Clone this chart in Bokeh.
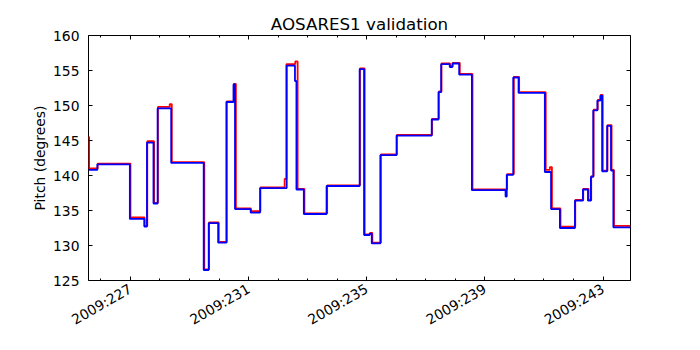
import math
from bokeh.plotting import figure
from bokeh.models import Range1d, FixedTicker, LinearAxis
from bokeh.embed import file_html
from bokeh.resources import INLINE

# Blue series (day of year 2009, pitch in degrees) - step starts
blue_day = [225.58, 225.88, 226.98, 227.47, 227.56, 227.78, 227.92, 228.38, 229.48, 229.65,
            229.97, 230.25, 230.49, 230.54, 231.07, 231.39, 232.29, 232.57, 232.62, 232.87,
            233.64, 234.76, 234.91, 235.10, 235.17, 235.46, 236.01, 237.20, 237.43, 237.52,
            237.81, 237.90, 238.13, 238.56, 239.70, 239.74, 239.96, 240.14, 241.03, 241.24,
            241.54, 242.05, 242.32, 242.49, 242.59, 242.67, 242.81, 242.91, 242.97, 243.14,
            243.27, 243.35, 243.93]
blue_pitch = [140.8, 141.6, 133.8, 132.7, 144.7, 136.0, 149.6, 141.8, 126.5, 133.2,
              130.4, 150.5, 153.0, 135.2, 134.7, 138.2, 155.7, 153.5, 138.0, 134.5,
              138.5, 155.2, 131.5, 131.7, 130.3, 142.9, 145.7, 148.0, 151.9, 155.9,
              155.5, 156.0, 154.4, 137.9, 137.0, 140.1, 154.0, 151.8, 140.5, 135.2,
              132.5, 136.4, 138.0, 136.4, 139.8, 149.3, 150.7, 151.4, 140.6, 147.1,
              140.7, 132.6, 132.6]

# Red series
red_day = [225.58, 225.60, 225.89, 227.00, 227.48, 227.57, 227.80, 227.93, 228.33, 228.40,
           229.50, 229.66, 229.99, 230.26, 230.50, 230.57, 231.08, 231.40, 232.22, 232.28,
           232.58, 232.66, 232.89, 233.66, 234.77, 234.93, 235.11, 235.19, 235.48, 236.02,
           237.21, 237.44, 237.53, 237.82, 237.91, 238.15, 238.58, 239.75, 239.98, 240.16,
           241.06, 241.20, 241.27, 241.56, 242.06, 242.33, 242.51, 242.60, 242.68, 242.82,
           242.92, 242.99, 243.15, 243.29, 243.37, 243.93]
red_pitch = [145.5, 141.0, 141.7, 134.0, 132.8, 144.9, 136.1, 149.8, 150.2, 141.9,
             126.6, 133.3, 130.5, 150.6, 153.1, 135.3, 134.9, 138.3, 139.5, 155.9,
             156.3, 138.1, 134.6, 138.6, 155.3, 131.6, 131.8, 130.4, 143.0, 145.8,
             148.1, 152.0, 156.0, 155.6, 156.1, 154.5, 138.0, 140.2, 154.1, 151.9,
             140.8, 141.2, 135.3, 132.7, 136.5, 138.1, 136.5, 139.9, 149.4, 150.8,
             151.5, 140.7, 147.2, 140.8, 132.8, 132.8]

x_start, x_end = 225.58, 243.93
y_start, y_end = 125, 160
major_days = [227, 231, 235, 239, 243]
major_labels = ["2009:227", "2009:231", "2009:235", "2009:239", "2009:243"]
minor_days = list(range(226, 244))
pitch_ticks = [125, 130, 135, 140, 145, 150, 155, 160]

FONT = "DejaVu Sans"

p = figure(frame_width=542, frame_height=245, output_backend="svg", toolbar_location=None,
           x_range=Range1d(x_start, x_end), y_range=Range1d(y_start, y_end),
           title="AOSARES1 validation", x_axis_location=None, y_axis_location=None)
p.min_border_left = 88
p.min_border_right = 54
p.min_border_top = 35
p.min_border_bottom = 54
p.background_fill_color = "white"
p.border_fill_color = "white"
p.outline_line_color = "black"
p.outline_line_width = 1
p.outline_line_alpha = 1
p.xgrid.visible = False
p.ygrid.visible = False

p.title.align = "center"
p.title.text_font = FONT
p.title.text_font_size = "16.7px"
p.title.text_font_style = "normal"
p.title.text_color = "black"
p.title.standoff = 4

xt = FixedTicker(ticks=major_days, minor_ticks=minor_days)
yt = FixedTicker(ticks=pitch_ticks, minor_ticks=[])

def style_axis(ax, show_labels):
    ax.axis_line_color = None
    ax.major_tick_in = 4
    ax.major_tick_out = 0
    ax.minor_tick_in = 2
    ax.minor_tick_out = 0
    ax.major_tick_line_color = "black"
    ax.minor_tick_line_color = "black"
    ax.major_label_text_font = FONT
    ax.major_label_text_font_size = "13.9px"
    ax.major_label_text_color = "black"
    if not show_labels:
        ax.major_label_text_font_size = "0px"
        ax.major_label_standoff = 0

bottom = LinearAxis(ticker=xt)
bottom.major_label_overrides = {d: s for d, s in zip(major_days, major_labels)}
bottom.major_label_orientation = math.pi / 6
style_axis(bottom, True)
bottom.major_label_standoff = 7
p.add_layout(bottom, "below")

top = LinearAxis(ticker=xt)
top.major_label_overrides = {d: "" for d in major_days}
style_axis(top, False)
p.add_layout(top, "above")

left = LinearAxis(ticker=yt, axis_label="Pitch (degrees)")
style_axis(left, True)
left.axis_label_text_font = FONT
left.axis_label_text_font_size = "13.9px"
left.axis_label_text_font_style = "normal"
left.axis_label_text_color = "black"
left.axis_label_standoff = 2
left.major_label_standoff = 9
p.add_layout(left, "left")

right = LinearAxis(ticker=yt)
right.major_label_overrides = {t: "" for t in pitch_ticks}
style_axis(right, False)
p.add_layout(right, "right")

p.step(red_day, red_pitch, mode="after", line_color="red", line_width=1.8)
p.step(blue_day, blue_pitch, mode="after", line_color="blue", line_width=1.8)

open("out.html", "w").write(file_html(p, INLINE))
